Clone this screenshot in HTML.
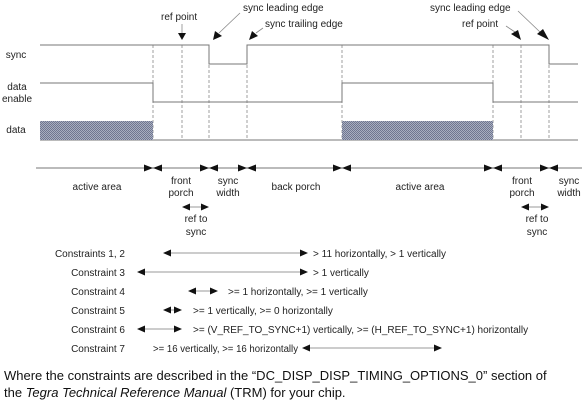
<!DOCTYPE html>
<html><head><meta charset="utf-8"><style>
body{margin:0;background:#fff;}
svg{display:block;font-family:"Liberation Sans","DejaVu Sans",sans-serif;}
.t{font-size:10px;fill:#222;}
.f{font-size:13px;fill:#111;}
</style></head><body>
<svg width="582" height="404" viewBox="0 0 582 404">
<defs>
<pattern id="hatch" width="2" height="2" patternUnits="userSpaceOnUse"><rect width="2" height="2" fill="#a8aebf"/><rect width="1" height="1" fill="#6f7690"/><rect x="1" y="1" width="1" height="1" fill="#6f7690"/></pattern>
</defs>
<g id="dashes" stroke="#888" stroke-width="0.8" stroke-dasharray="3,2"></g>
<g stroke="#777" stroke-width="1" fill="none">
<path d="M40 45H209V64H247V45H549V64H578"/>
<path d="M40 83H153V102H342V83H493V102H578"/>
<path d="M40 140H578"/>
<path d="M36 168H582"/>
</g>
<rect x="40" y="121" width="113" height="19" fill="url(#hatch)"/>
<rect x="342" y="121" width="151" height="19" fill="url(#hatch)"/>
<g id="bows" fill="#111"></g>
<g class="t" text-anchor="middle">
<text x="16" y="58">sync</text>
<text x="17" y="90">data</text>
<text x="17" y="102">enable</text>
<text x="16" y="133">data</text>
</g>
<g class="t">
<text x="161" y="20">ref point</text>
<text x="243" y="11">sync leading edge</text>
<text x="265" y="27">sync trailing edge</text>
<text x="430" y="11">sync leading edge</text>
<text x="462" y="27">ref point</text>
</g>
<g stroke="#888" stroke-width="0.8" fill="#111">
<line x1="182" y1="24" x2="182" y2="33"/><path d="M178 33H186L182 40Z" stroke="none"/>
<line x1="240" y1="13" x2="219" y2="33"/><path d="M213 40L215 31L222 36Z" stroke="none"/>
<line x1="263" y1="28" x2="256" y2="33"/><path d="M249 40L252 31L258 36Z" stroke="none"/>
<line x1="506" y1="26" x2="515" y2="32"/><path d="M521 40L511 34L518 30Z" stroke="none"/>
<line x1="518" y1="11" x2="540" y2="32"/><path d="M549 40L537 34L543 29Z" stroke="none"/>
</g>
<g class="t" text-anchor="middle">
<text x="97" y="190">active area</text>
<text x="181" y="184">front</text><text x="181" y="196">porch</text>
<text x="228" y="184">sync</text><text x="228" y="196">width</text>
<text x="296" y="190">back porch</text>
<text x="420" y="190">active area</text>
<text x="522" y="184">front</text><text x="522" y="196">porch</text>
<text x="569" y="184">sync</text><text x="569" y="196">width</text>
<text x="196" y="222">ref to</text><text x="196" y="235">sync</text>
<text x="537" y="222">ref to</text><text x="537" y="235">sync</text>
</g>
<g id="carrows"></g>
<g class="t">
<g text-anchor="end">
<text x="125" y="257">Constraints 1, 2</text>
<text x="125" y="276">Constraint 3</text>
<text x="125" y="295">Constraint 4</text>
<text x="125" y="314">Constraint 5</text>
<text x="125" y="333">Constraint 6</text>
<text x="125" y="352">Constraint 7</text>
</g>
<text x="313" y="257">&gt; 11 horizontally, &gt; 1 vertically</text>
<text x="313" y="276">&gt; 1 vertically</text>
<text x="228" y="295">&gt;= 1 horizontally, &gt;= 1 vertically</text>
<text x="193" y="314">&gt;= 1 vertically, &gt;= 0 horizontally</text>
<text x="193" y="333">&gt;= (V_REF_TO_SYNC+1) vertically, &gt;= (H_REF_TO_SYNC+1) horizontally</text>
<text x="153" y="352" textLength="145" lengthAdjust="spacingAndGlyphs">&gt;= 16 vertically, &gt;= 16 horizontally</text>
</g>
<g class="f">
<text x="4" y="380">Where the constraints are described in the “DC_DISP_DISP_TIMING_OPTIONS_0” section of</text>
<text x="4" y="397">the <tspan font-style="italic">Tegra Technical Reference Manual</tspan> (TRM) for your chip.</text>
</g>
</svg>
<script>
const boundaries=[153,182,209,247,342,493,521,549];
const bowXs=[153,209,247,342,493,549];
const constraintSpans=[[163,308,253],[137,308,272],[188,218,291],[163,182,310],[137,182,329],[302,442,348],[182,209,207],[521,549,207]];
const NS='http://www.w3.org/2000/svg';
const dg=document.getElementById('dashes');
boundaries.forEach(x=>{const l=document.createElementNS(NS,'line');


l.setAttribute('x1',x);l.setAttribute('x2',x);l.setAttribute('y1',45);l.setAttribute('y2',140);dg.appendChild(l);});
const bg=document.getElementById('bows');
bowXs.forEach(x=>{const p=document.createElementNS(NS,'path');


p.setAttribute('d',`M${x-9} 164.5L${x} 168L${x-9} 171.5ZM${x+9} 164.5L${x} 168L${x+9} 171.5Z`);bg.appendChild(p);});
const cg=document.getElementById('carrows');
constraintSpans.forEach(([a,b,y])=>{const g=document.createElementNS(NS,'g');


g.innerHTML=`<line x1="${a+5}" x2="${b-5}" y1="${y}" y2="${y}" stroke="#777" stroke-width="0.8"/><path d="M${a} ${y}L${a+8} ${y-3.5}L${a+8} ${y+3.5}Z M${b} ${y}L${b-8} ${y-3.5}L${b-8} ${y+3.5}Z" fill="#111"/>`;
cg.appendChild(g);});
</script>
</body></html>
